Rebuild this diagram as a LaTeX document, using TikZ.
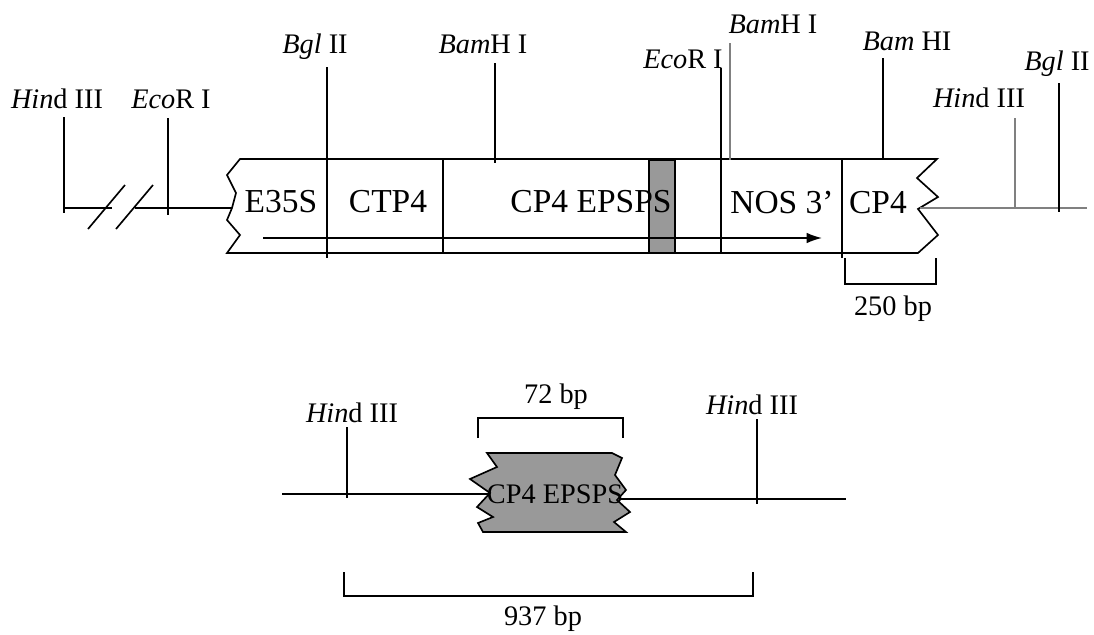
\documentclass[tikz,border=0pt]{standalone}
\usepackage{fontspec}
\setmainfont{Liberation Serif}
\usepackage{tikz}
\usetikzlibrary{positioning,calc,arrows.meta}

\tikzset{
    site/.style={anchor=base, inner sep=0pt, font=\fontsize{12}{14}\selectfont},
    seg/.style={anchor=base, inner sep=0pt, font=\fontsize{12}{14}\selectfont},
    part/.style={anchor=base, inner sep=0pt, font=\fontsize{14.2}{16}\selectfont}
}

\begin{document}
\begin{tikzpicture}[x=0.424pt, y=-0.424pt, line width=0.7pt]
    \useasboundingbox (0,0) rectangle (1094,634);

    % Construct box with broken ends
    \draw (240,159) -- (937,159) -- (917,178) -- (938,197) -- (918,209) -- (938,235) -- (918,253)
        -- (227,253) -- (240,235) -- (227,220) -- (232,208) -- (236,193) -- (227,175) -- cycle;
    \fill[gray!80] (649,160) rectangle (675,253);
    \draw (649,160) rectangle (675,253);
    \draw (443,159) -- (443,253);
    \draw (842,159) -- (842,258);

    % Flanking DNA
    \draw (64,208) -- (112,208);
    \draw (135,208) -- (232,208);
    \draw[gray] (920,208) -- (1087,208);
    \draw (88,229) -- (125,185);
    \draw (116,229) -- (153,185);

    % Transcription direction
    \draw[-{Latex[length=6.5pt,width=4.5pt]}] (263,238) -- (822,238);

    % Segment labels
    \node[part] (e35s) at (281,212) {E35S};
    \node[part] (ctp) at (388,212) {CTP4};
    \node[part] (epsps) at (591,212) {CP4 EPSPS};
    \node[part] (nos) at (782,213) {NOS 3’};
    \node[part] (cpf) at (878,213) {CP4};

    % Restriction sites
    \foreach \n/\tx/\ta/\tb/\lx/\ly/\col/\txt in {
        hindL/64/117/213/57/108/black/{\textit{Hin}d III},
        ecoL/168/118/215/171/108/black/{\textit{Eco}R I},
        bglL/327/67/258/315/53/black/{\textit{Bgl} II},
        bamL/495/63/163/483/53/black/{\textit{Bam}H I},
        ecoR/721/68/253/683/68/black/{\textit{Eco}R I},
        bamM/730/43/160/773/33/gray/{\textit{Bam}H I},
        bamR/883/58/160/907/50/black/{\textit{Bam} HI},
        hindR/1015/118/208/979/107/gray/{\textit{Hin}d III},
        bglR/1059/83/212/1057/70/black/{\textit{Bgl} II},
        hindP/347/427/498/352/422/black/{\textit{Hin}d III},
        hindQ/757/419/504/752/414/black/{\textit{Hin}d III}}
    {
        \node[site] (\n) at (\lx,\ly) {\txt};
        \coordinate (\n-top) at (\tx,\ta);
        \coordinate (\n-bot) at (\tx,\tb);
        \draw[\col] (\n-top) -- (\n-bot);
    }

    % 250 bp bracket
    \draw (845,258) -- (845,284) -- (936,284) -- (936,258);
    \node[seg] (bp250) at (893,315) {250 bp};

    % Probe fragment
    \draw (282,494) -- (490,494);
    \draw (620,499) -- (846,499);
    \draw[fill=gray!80] (487,453) -- (612,453) -- (622,458) -- (615,475) -- (626,490) -- (617,500)
        -- (630,512) -- (614,522) -- (626,532) -- (483,532) -- (478,523) -- (493,517) -- (477,507)
        -- (490,493) -- (470,479) -- (497,467) -- cycle;
    \node[seg] (probe) at (555,503) {CP4 EPSPS};

    % 72 bp and 937 bp brackets
    \draw (478,438) -- (478,418) -- (623,418) -- (623,438);
    \node[seg] (bp72) at (556,403) {72 bp};
    \draw (344,572) -- (344,596) -- (753,596) -- (753,572);
    \node[seg] (bp937) at (543,625) {937 bp};
\end{tikzpicture}
\end{document}
